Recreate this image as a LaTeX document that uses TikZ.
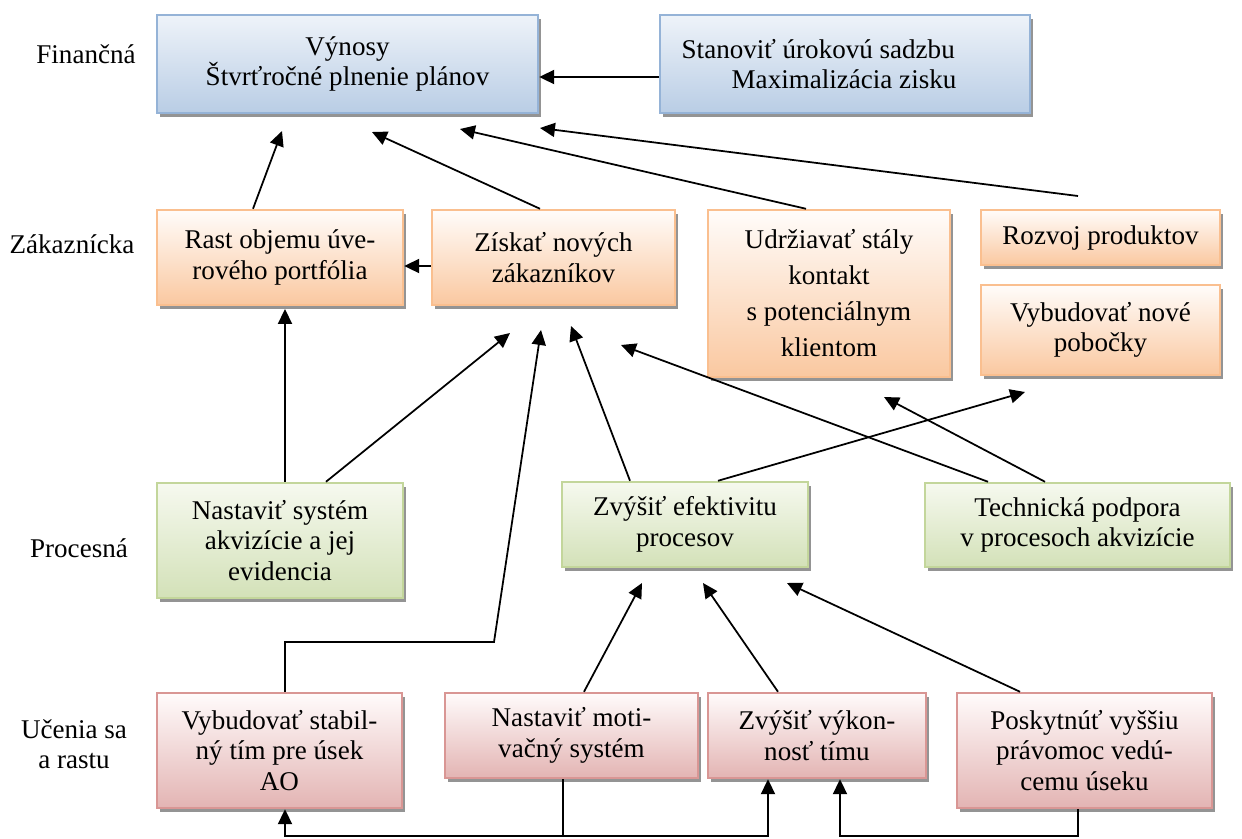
\documentclass[tikz,border=0pt]{standalone}
\usepackage{fontspec}
\setmainfont{Liberation Serif}
\usetikzlibrary{arrows.meta,shadows}
\definecolor{bltop}{HTML}{EEF3F9}
\definecolor{blbot}{HTML}{B9CDE5}
\definecolor{blborder}{HTML}{95B3D7}
\definecolor{ortop}{HTML}{FFFCFA}
\definecolor{orbot}{HTML}{FAC8A0}
\definecolor{orborder}{HTML}{FABF8F}
\definecolor{grtop}{HTML}{F6F9EF}
\definecolor{grbot}{HTML}{D3E1B8}
\definecolor{grborder}{HTML}{C3D69B}
\definecolor{rdtop}{HTML}{FFFBFB}
\definecolor{rdbot}{HTML}{E3B4B3}
\definecolor{rdborder}{HTML}{D99694}
% \bxn[extra options]{colour}{name}{x1}{y1}{x2}{y2}{text}
\newcommand\bxn[8][]{\node[box=#2, minimum width={(#6-#4)*0.02cm}, minimum height={(#7-#5)*0.02cm}, #1] (#3) at ({(#4+#6)/2},{(#5+#7)/2}) {#8};}
\begin{document}
\begin{tikzpicture}[x=0.02cm,y=-0.02cm,
  font=\fontsize{15.4}{17.3}\selectfont,
  box/.style={draw=#1border, line width=1.4pt, top color=#1top, bottom color=#1bot,
    inner sep=0pt, align=center,
    drop shadow={shadow xshift=1.8pt, shadow yshift=-2.4pt, opacity=1, fill=black!42}},
  lbl/.style={align=center, inner sep=0pt},
  arr/.style={-{Triangle[length=8.5pt,width=8pt]}, line width=1pt}]
\useasboundingbox (0,0) rectangle (1242,839);

% row labels
\node[lbl] (lf) at (86,54) {Finančná};
\node[lbl] (lz) at (72,244) {Zákaznícka};
\node[lbl] (lp) at (79,548) {Procesná};
\node[lbl] (lu) at (74,744) {Učenia sa\\a rastu};

% financial
\bxn{bl}{b1}{157}{15}{538}{113}{Výnosy\\Štvrťročné plnenie plánov}
\bxn[align=left]{bl}{b2}{660}{15}{1030}{113}{Stanoviť úrokovú sadzbu\\\hspace*{1cm}Maximalizácia zisku\hspace*{1.04cm}}

% customer
\bxn{or}{c1}{157}{210}{403}{305}{Rast objemu úve-\\rového portfólia}
\bxn{or}{c2}{432}{210}{675}{305}{Získať nových\\zákazníkov}
\bxn[font=\fontsize{15.4}{20.5}\selectfont]{or}{c3}{708}{210}{950}{377}{Udržiavať stály\\kontakt\\s potenciálnym\\klientom}
\bxn{or}{c4}{981}{210}{1220}{265}{Rozvoj produktov}
\bxn{or}{c5}{981}{285}{1220}{375}{Vybudovať nové\\pobočky}

% process
\bxn{gr}{p1}{157}{483}{403}{598}{Nastaviť systém\\akvizície a jej\\evidencia}
\bxn{gr}{p2}{562}{482}{808}{567}{Zvýšiť efektivitu\\procesov}
\bxn{gr}{p3}{925}{483}{1230}{567}{Technická podpora\\v procesoch akvizície}

% learning
\bxn{rd}{l1}{157}{693}{402}{808}{Vybudovať stabil-\\ný tím pre úsek\\AO}
\bxn{rd}{l2}{445}{693}{698}{778}{Nastaviť moti-\\vačný systém}
\bxn{rd}{l3}{708}{693}{926}{778}{Zvýšiť výkon-\\nosť tímu}
\bxn{rd}{l4}{957}{693}{1212}{808}{Poskytnúť vyššiu\\právomoc vedú-\\cemu úseku}

% free arrow ends
\coordinate (t1) at (282,131);
\coordinate (t2) at (372,132);
\coordinate (t3) at (460,129);
\coordinate (t4) at (540,128);
\coordinate (s4) at (1078,196);
\coordinate (t7) at (285,309);
\coordinate (t8) at (510,333);
\coordinate (k1) at (285,642);
\coordinate (k2) at (494,642);
\coordinate (t9) at (541,330);
\coordinate (t10) at (571,326);
\coordinate (t11) at (621,345);
\coordinate (t12) at (884,397);
\coordinate (t13) at (1025,392);
\coordinate (t14) at (642,583);
\coordinate (t15) at (703,583);
\coordinate (t16) at (787,583);
\coordinate (bl) at (285,836);
\coordinate (bm) at (563,836);
\coordinate (bn) at (768,836);
\coordinate (bp) at (840,836);
\coordinate (bq) at (1078,836);

% connectors to financial
\draw[arr] (c1.north -| 253,0) -- (t1);
\draw[arr] (c2.north -| 540,0) -- (t2);
\draw[arr] (c3.north -| 806,0) -- (t3);
\draw[arr] (s4) -- (t4);
\draw[arr] (b2.west |- 0,77) -- (b1.east |- 0,77);

% customer
\draw[arr] (c2.west |- 0,266) -- (c1.east |- 0,266);

% process to customer
\draw[arr] (p1.north -| 285,0) -- (t7);
\draw[arr] (p1.north -| 326,0) -- (t8);
\draw[arr] (l1.north -| 285,0) -- (k1) -- (k2) -- (t9);
\draw[arr] (p2.north -| 630,0) -- (t10);
\draw[arr] (p3.north -| 988,0) -- (t11);
\draw[arr] (p3.north -| 1045,0) -- (t12);
\draw[arr] (p2.north -| 718,0) -- (t13);

% learning to process
\draw[arr] (l2.north -| 584,0) -- (t14);
\draw[arr] (l3.north -| 778,0) -- (t15);
\draw[arr] (l4.north -| 1020,0) -- (t16);

% bottom bus
\draw[arr] (l2.south -| 563,0) -- (bm) -- (bl) -- (l1.south -| 285,0);
\draw[arr] (bm) -- (bn) -- (l3.south -| 768,0);
\draw[arr] (l4.south -| 1078,0) -- (bq) -- (bp) -- (l3.south -| 840,0);
\end{tikzpicture}
\end{document}
